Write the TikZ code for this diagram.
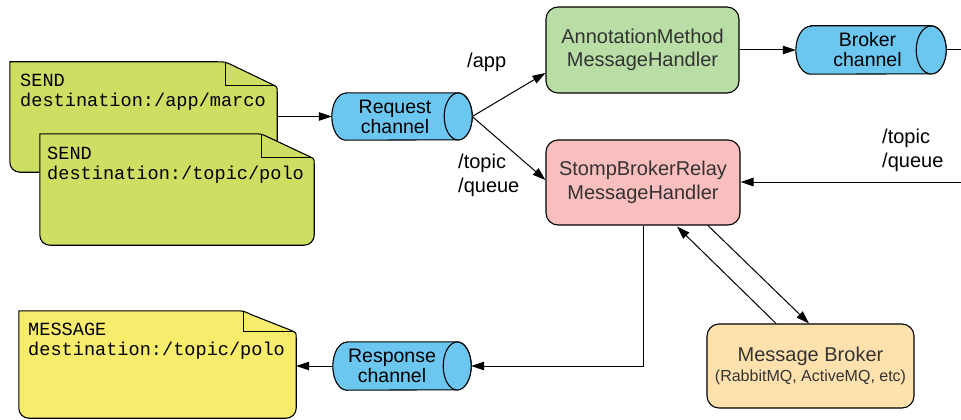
\documentclass[tikz,border=0pt]{standalone}
\usepackage{fontspec}
\setmainfont{Liberation Sans}
\setmonofont{Liberation Mono}
\usetikzlibrary{arrows.meta}
\definecolor{docgreen}{HTML}{CEDE62}
\definecolor{docyellow}{HTML}{F8EC6C}
\definecolor{chanblue}{HTML}{6CC7F0}
\definecolor{amhgreen}{HTML}{B8DDA5}
\definecolor{stomppink}{HTML}{F9BEBE}
\definecolor{brokerorange}{HTML}{FEE1AD}
\definecolor{boxtext}{HTML}{333333}
\newcommand\mydoc[4]{%
  \filldraw[docline, fill=#2] (#1.north west) -- ([xshift=-#3-8pt]#1.north east)
    .. controls ([xshift=-#3]#1.north east) .. ([xshift=-#3+8pt,yshift=-3.8pt]#1.north east)
    -- ([xshift=-5pt,yshift=-#4+2.4pt]#1.north east)
    .. controls ([yshift=-#4]#1.north east) .. ([yshift=-#4-5pt]#1.north east)
    -- ([yshift=10pt]#1.south east) arc[start angle=0,end angle=-90,radius=10pt]
    -- ([xshift=10pt]#1.south west) arc[start angle=270,end angle=180,radius=10pt] -- cycle;
  \draw[docline] ([xshift=-#3,yshift=-0.5pt]#1.north east) -- ([xshift=-#3,yshift=-#4+1pt]#1.north east)
    -- ([xshift=-2pt,yshift=-#4+1pt]#1.north east);}
\newcommand\mychan[3]{%
  \filldraw[chanline] ([xshift=#2]#1.north west) -- (#1.north east)
    arc[start angle=90,end angle=-90,x radius=#2,y radius=#3]
    -- ([xshift=#2]#1.south west)
    arc[start angle=270,end angle=90,x radius=#2,y radius=#3] -- cycle;
  \draw[chanline] (#1.east) ellipse[x radius=#2,y radius=#3];}
\begin{document}
\begin{tikzpicture}[x=1pt,y=-1pt,
  docline/.style={draw=black, line width=1.1pt},
  chanline/.style={draw=black, fill=chanblue, line width=1.1pt},
  area/.style={draw=none, inner sep=0pt},
  monotext/.style={anchor=north west, inner sep=0pt, align=left, font=\ttfamily\fontsize{18.6}{19.5}\selectfont},
  chantext/.style={inner sep=0pt, align=center, font=\fontsize{19.5}{20}\selectfont},
  handler/.style={draw=black, rounded corners=12pt, line width=1.1pt, inner sep=0pt, align=center,
    text=boxtext, font=\fontsize{20}{23.5}\selectfont},
  lbl/.style={inner sep=0pt, align=left, font=\fontsize{20}{24}\selectfont},
  conn/.style={draw=black, line width=1pt},
  arr/.style={conn, -{Triangle[length=13pt,width=8.5pt]}}]
\useasboundingbox (0,0) rectangle (961,420);

% documents
\node[area, minimum width=267pt, minimum height=110pt] (doc1) at (143.5,117) {};
\mydoc{doc1}{docgreen}{52pt}{25pt}
\node[monotext] (doc1t) at (20,74.3) {SEND\\destination:/app/marco};
\node[area, minimum width=274pt, minimum height=111pt] (doc2) at (177,189.5) {};
\mydoc{doc2}{docgreen}{53pt}{25pt}
\node[monotext] (doc2t) at (47,147.3) {SEND\\destination:/topic/polo};
\node[area, minimum width=277pt, minimum height=107pt] (msg) at (157.5,364.5) {};
\mydoc{msg}{docyellow}{53pt}{22pt}
\node[monotext] (msgt) at (28,323.3) {MESSAGE\\destination:/topic/polo};

% channels
\node[area, minimum width=126pt, minimum height=47pt] (req) at (395,116.5) {};
\mychan{req}{14pt}{23.5pt}
\node[chantext] (reqt) at (req) {Request\\channel};
\node[area, minimum width=135pt, minimum height=48pt] (bchan) at (863.5,50) {};
\mychan{bchan}{15pt}{24pt}
\node[chantext] (bchant) at ([xshift=4pt]bchan.center) {Broker\\channel};
\node[area, minimum width=124pt, minimum height=48pt] (resp) at (395,366) {};
\mychan{resp}{14pt}{24pt}
\node[chantext] (respt) at ([xshift=-3pt]resp.center) {Response\\channel};

% handlers
\node[handler, fill=amhgreen, minimum width=193pt, minimum height=86pt] (amh) at (642.5,50) {AnnotationMethod\\MessageHandler};
\node[handler, fill=stomppink, minimum width=194pt, minimum height=85pt] (stomp) at (643,182.5) {StompBrokerRelay\\MessageHandler};
\node[handler, fill=brokerorange, minimum width=207pt, minimum height=84pt] (broker) at (810.5,366)
  {Message Broker\\[-3pt]{\fontsize{16}{18}\selectfont (RabbitMQ, ActiveMQ, etc)}};

% free ends / channel outlets
\coordinate (reqout) at ([xshift=14pt]req.east);
\coordinate (bchanout) at ([xshift=15pt]bchan.east);
\coordinate (respout) at ([xshift=14pt]resp.east);
\coordinate (rightout) at (961,50);
\coordinate (rightin) at (961,182);

% connectors
\draw[arr] (doc1.east |- req.west) -- (req.west);
\draw[arr] (reqout) -- ([yshift=-23pt]amh.west);
\draw[arr] (reqout) -- ([yshift=2.5pt]stomp.west);
\draw[arr] (amh.east) -- (bchan.west);
\draw[conn] (bchanout) -- (rightout);
\draw[arr] (rightin) -- (rightin -| stomp.east);
\draw[arr] (stomp.south) |- (respout);
\draw[arr] (resp.west) -- (resp.west -| msg.east);
\draw[arr] ([xshift=-34.5pt]broker.north) -- ([xshift=34pt,yshift=-1pt]stomp.south);
\draw[arr] ([xshift=65pt]stomp.south) -- ([xshift=-1.5pt]broker.north);

% labels
\node[lbl, anchor=west] (lapp) at (467,62) {/app};
\node[lbl, anchor=west] (ltq1) at (458,175) {/topic\\/queue};
\node[lbl, anchor=west] (ltq2) at (882,150) {/topic\\/queue};
\end{tikzpicture}
\end{document}
